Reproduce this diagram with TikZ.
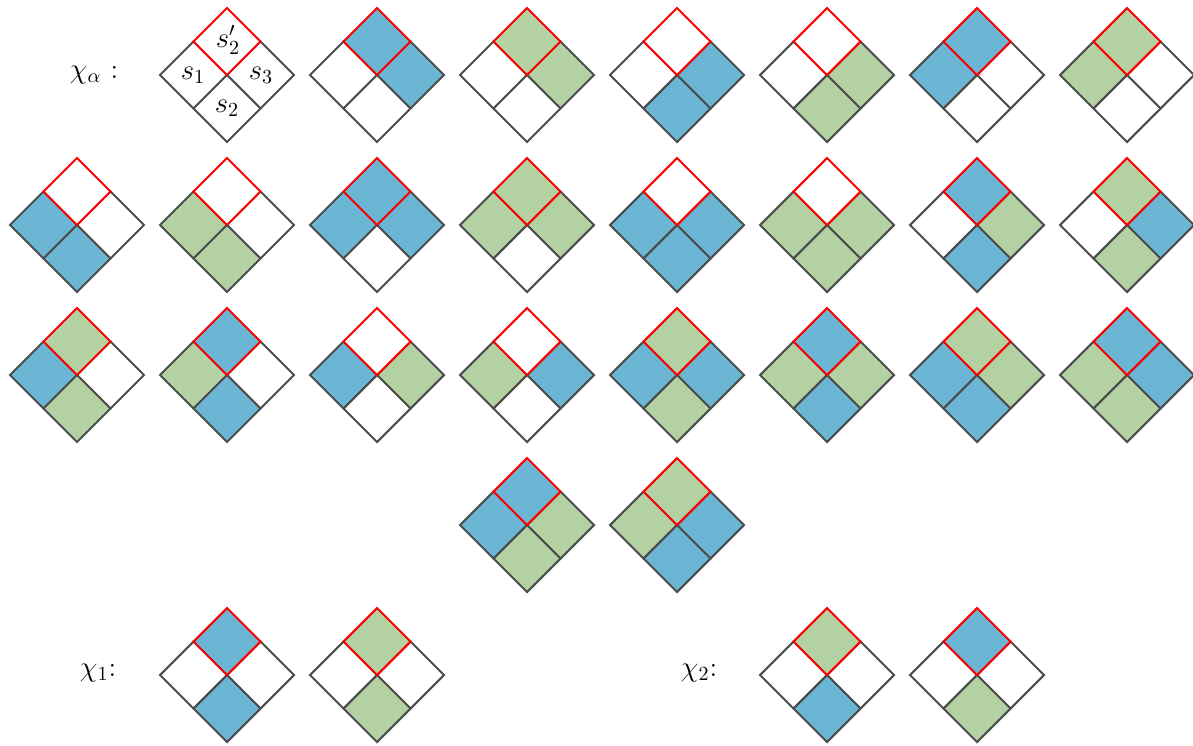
\documentclass[tikz,border=0pt]{standalone}
\usepackage{amsmath}
\definecolor{cb}{HTML}{6CB6D5}
\definecolor{cg}{HTML}{B3D1A3}
\definecolor{W}{HTML}{FFFFFF}
\definecolor{gl}{HTML}{4D4D4D}
\colorlet{B}{cb}
\colorlet{G}{cg}
\tikzset{
  sq/.style={draw=gl, line width=1.05pt, line join=miter},
  topsq/.style={draw=red, line width=1.05pt, line join=miter},
  lab/.style={font=\fontsize{14}{17}\selectfont, inner sep=0pt}
}
% #1 x, #2 y, #3 top, #4 left, #5 right, #6 bottom
\newcommand{\dmd}[6]{%
  \begin{scope}[shift={(#1,#2)}]
    \filldraw[sq, fill=#4] (-67,0)--(-33.5,-33.5)--(0,0)--(-33.5,33.5)--cycle;
    \filldraw[sq, fill=#5] (67,0)--(33.5,-33.5)--(0,0)--(33.5,33.5)--cycle;
    \filldraw[sq, fill=#6] (0,67)--(-33.5,33.5)--(0,0)--(33.5,33.5)--cycle;
    \filldraw[topsq, fill=#3] (0,-67)--(-33.5,-33.5)--(0,0)--(33.5,-33.5)--cycle;
  \end{scope}}
\begin{document}
\begin{tikzpicture}[x=0.5pt,y=-0.5pt]
\useasboundingbox (0,0) rectangle (1193,745);
% row 1
\node[lab] (chia) at (94,75) {$\chi_\alpha$ :};
\dmd{227}{75}{W}{W}{W}{W}
\node[lab] (s2p) at (228,40) {$s_2'$};
\node[lab] (s1) at (193,75) {$s_1$};
\node[lab] (s3) at (261,75) {$s_3$};
\node[lab] (s2) at (227,108) {$s_2$};
\dmd{377}{75}{B}{W}{B}{W}
\dmd{527}{75}{G}{W}{G}{W}
\dmd{677}{75}{W}{W}{B}{B}
\dmd{827}{75}{W}{W}{G}{G}
\dmd{977}{75}{B}{B}{W}{W}
\dmd{1127}{75}{G}{G}{W}{W}
% row 2
\dmd{77}{225}{W}{B}{W}{B}
\dmd{227}{225}{W}{G}{W}{G}
\dmd{377}{225}{B}{B}{B}{W}
\dmd{527}{225}{G}{G}{G}{W}
\dmd{677}{225}{W}{B}{B}{B}
\dmd{827}{225}{W}{G}{G}{G}
\dmd{977}{225}{B}{W}{G}{B}
\dmd{1127}{225}{G}{W}{B}{G}
% row 3
\dmd{77}{375}{G}{B}{W}{G}
\dmd{227}{375}{B}{G}{W}{B}
\dmd{377}{375}{W}{B}{G}{W}
\dmd{527}{375}{W}{G}{B}{W}
\dmd{677}{375}{G}{B}{B}{G}
\dmd{827}{375}{B}{G}{G}{B}
\dmd{977}{375}{G}{B}{G}{B}
\dmd{1127}{375}{B}{G}{B}{G}
% row 4
\dmd{527}{525}{B}{B}{G}{G}
\dmd{677}{525}{G}{G}{B}{B}
% row 5
\node[lab] (chi1) at (98,673) {$\chi_1$:};
\dmd{227}{675}{B}{W}{W}{B}
\dmd{377}{675}{G}{W}{W}{G}
\node[lab] (chi2) at (699,673) {$\chi_2$:};
\dmd{827}{675}{G}{W}{W}{B}
\dmd{977}{675}{B}{W}{W}{G}
\end{tikzpicture}
\end{document}
